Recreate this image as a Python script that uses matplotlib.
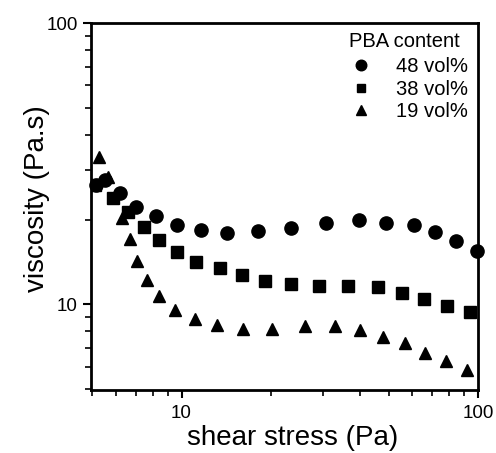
import matplotlib.pyplot as plt
from matplotlib.ticker import LogLocator, NullFormatter, FixedLocator, FixedFormatter

plt.rcParams['font.family'] = ['Liberation Sans', 'DejaVu Sans']

# 48 vol%
x48 = [5.15, 5.53, 6.21, 7.01, 8.23, 9.62, 11.6, 14.2, 18.1, 23.4, 30.8, 39.8, 49.1, 60.7, 71.5, 84.2, 99.2]
y48 = [26.5, 27.6, 24.8, 22.2, 20.6, 19.2, 18.3, 17.85, 18.2, 18.6, 19.5, 20.0, 19.5, 19.2, 18.0, 16.8, 15.5]

# 38 vol%
x38 = [5.11, 5.88, 6.59, 7.49, 8.42, 9.62, 11.2, 13.45, 16.0, 19.2, 23.5, 29.2, 36.5, 45.9, 55.5, 65.8, 78.5, 93.7]
y38 = [26.5, 23.8, 21.2, 18.8, 16.9, 15.3, 14.1, 13.5, 12.7, 12.1, 11.8, 11.6, 11.6, 11.5, 11.0, 10.4, 9.84, 9.37]

# 19 vol%
x19 = [5.25, 5.66, 6.32, 6.70, 7.08, 7.63, 8.42, 9.52, 11.07, 13.2, 16.06, 20.2, 26.1, 33.0, 39.9, 47.7, 56.7, 66.1, 78.1, 91.6]
y19 = [33.4, 28.4, 20.2, 17.1, 14.3, 12.2, 10.7, 9.57, 8.89, 8.42, 8.15, 8.13, 8.35, 8.37, 8.08, 7.65, 7.25, 6.68, 6.27, 5.82]

fig = plt.figure(figsize=(4.96, 4.53), dpi=100)
ax = fig.add_axes([0.1835, 0.139, 0.78, 0.81])

ax.plot(x48, y48, 'o', color='black', ms=9.5, label='48 vol%', clip_on=False)
ax.plot(x38, y38, 's', color='black', ms=8, label='38 vol%')
ax.plot(x19, y19, '^', color='black', ms=9, label='19 vol%')

ax.set_xscale('log')
ax.set_yscale('log')
ax.set_xlim(4.95, 100)
ax.set_ylim(4.95, 100)

ax.xaxis.set_major_locator(FixedLocator([10, 100]))
ax.xaxis.set_major_formatter(FixedFormatter(['10', '100']))
ax.yaxis.set_major_locator(FixedLocator([10, 100]))
ax.yaxis.set_major_formatter(FixedFormatter(['10', '100']))
ax.xaxis.set_minor_locator(LogLocator(subs=range(2, 10)))
ax.yaxis.set_minor_locator(LogLocator(subs=range(2, 10)))
ax.xaxis.set_minor_formatter(NullFormatter())
ax.yaxis.set_minor_formatter(NullFormatter())

ax.tick_params(which='major', direction='out', length=6, width=1.5, labelsize=13.5)
ax.tick_params(axis='x', which='major', pad=5)
ax.tick_params(which='minor', direction='out', length=4, width=1.2)
for s in ax.spines.values():
    s.set_linewidth(2)

ax.set_xlabel('shear stress (Pa)', fontsize=20, va='center')
ax.set_ylabel('viscosity (Pa.s)', fontsize=20, va='center')
ax.xaxis.set_label_coords(0.52, -0.13)
ax.yaxis.set_label_coords(-0.14, 0.522)

# legend title drawn separately so the gap above the rows matches
ax.text(0.953, 0.951, 'PBA content', transform=ax.transAxes, ha='right', va='center',
        fontsize=14.5)
ax.legend(loc='upper right', bbox_to_anchor=(0.974, 0.907), frameon=False, fontsize=14.5,
          markerscale=0.8, handlelength=1.0, handletextpad=1.25,
          labelspacing=0.17, borderaxespad=0, borderpad=0)

fig.savefig('out.png', dpi=100)
